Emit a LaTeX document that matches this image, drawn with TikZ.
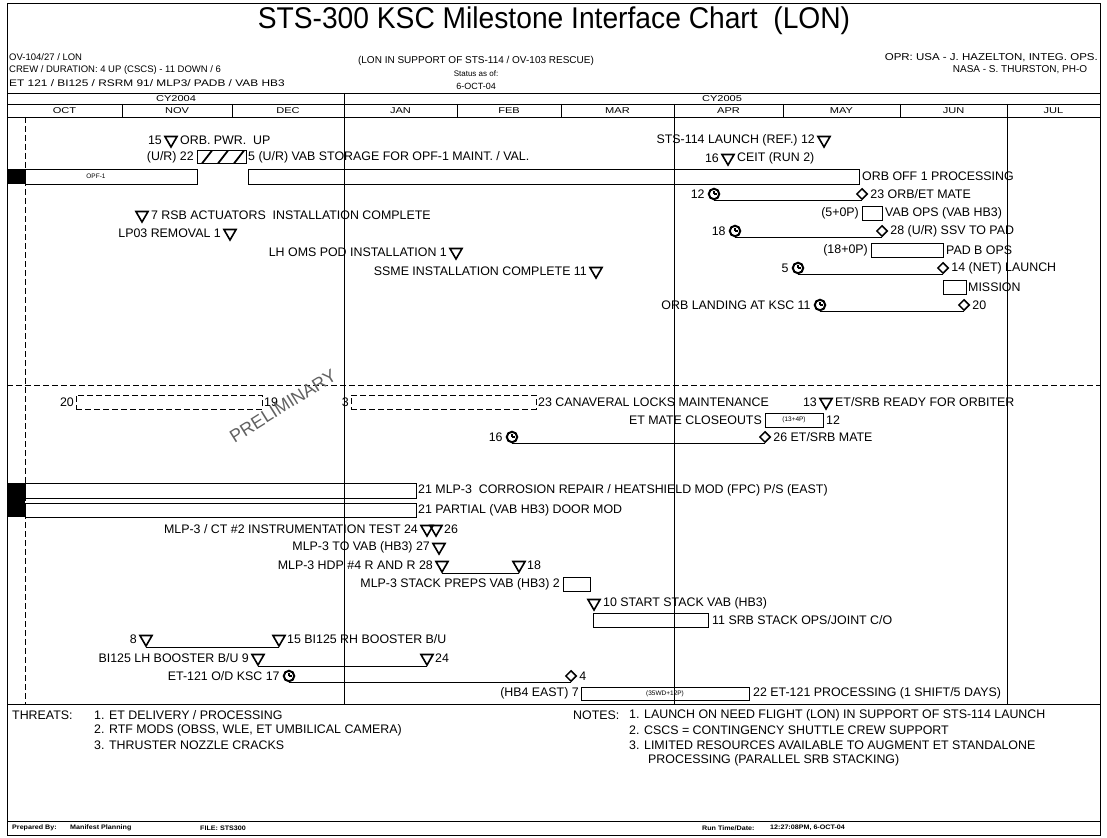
\documentclass[tikz,border=0pt]{standalone}
\usepackage{fontspec}
\setmainfont{Liberation Sans}
\newfontfamily\ttlface[FakeStretch=0.94]{Liberation Sans}
\newfontfamily\etface[FakeStretch=1.25]{Liberation Sans}
\newfontfamily\oprface[FakeStretch=1.15]{Liberation Sans}
\newfontfamily\monface[FakeStretch=1.3]{Liberation Sans}
\newfontfamily\ftrface[FakeStretch=1.1]{Liberation Sans}
\usetikzlibrary{positioning,shapes.geometric}

\begin{document}
\begin{tikzpicture}[x=1pt,y=-1pt,
  lbl/.style={font=\fontsize{12.4}{14}\selectfont, inner sep=1pt},
  note/.style={font=\fontsize{12.4}{14}\selectfont, inner sep=0pt, anchor=west},
  hdr/.style={font=\fontsize{9.5}{11}\selectfont, inner sep=0pt, anchor=west},
  mon/.style={font=\monface\fontsize{8.5}{10}\selectfont, inner sep=0pt},
  ftr/.style={font=\ftrface\bfseries\fontsize{6.5}{8}\selectfont, inner sep=0pt, anchor=west},
  inbox/.style={font=\fontsize{6.5}{7}\selectfont},
  ms/.style={regular polygon, regular polygon sides=3, shape border rotate=180, draw, line width=1.6pt, minimum size=14pt, inner sep=0pt},
  dm/.style={diamond, draw, line width=1.5pt, minimum size=11pt, inner sep=0pt},
  fc/.style={circle, draw, line width=2pt, minimum size=10.5pt, inner sep=0pt,
    path picture={\draw[line width=1.3pt] (path picture bounding box.center) -- ++(0,-3.5)
      (path picture bounding box.center) -- ++(3,0);}},
  task/.style={draw, line width=0.9pt, inner sep=0pt, outer sep=0pt},
  plan/.style={task, dash pattern=on 6pt off 3pt},
  tie/.style={line width=0.9pt},
  gridline/.style={line width=0.9pt},
  today/.style={line width=0.9pt, dash pattern=on 6pt off 3pt}
]
\useasboundingbox (0,0) rectangle (1107,837);

\draw[gridline] (7,3) rectangle (1100,835);
\foreach \y in {93,104,117,704,821} \draw[gridline] (7,\y) -- (1100,\y);
\draw[gridline] (344,93) -- (344,704);
\foreach \x in {674,1007} \draw[gridline] (\x,104) -- (\x,704);
\foreach \x in {122,232,457,561,783,900} \draw[gridline] (\x,104) -- (\x,117);
\draw[today] (25,117) -- (25,704);
\draw[today] (7,385) -- (1100,385);
\fill (7,169) rectangle (25,184);
\fill (7,483) rectangle (25,517);

\node[font=\ttlface\fontsize{30}{32}\selectfont, inner sep=0pt] (ttl) at (554,21) {STS-300 KSC Milestone Interface Chart\ \ (LON)};
\node[hdr] (hl1) at (9,57) {OV-104/27 / LON};
\node[hdr] (hl2) at (9,70) {CREW / DURATION: 4 UP (CSCS) - 11 DOWN / 6};
\node[hdr, font=\etface\fontsize{9.5}{11}\selectfont] (hl3) at (9,83) {ET 121 / BI125 / RSRM 91/ MLP3/ PADB / VAB HB3};
\node[font=\fontsize{10}{12}\selectfont, inner sep=0pt] (hc1) at (476,61) {(LON IN SUPPORT OF STS-114 / OV-103 RESCUE)};
\node[font=\fontsize{8}{9}\selectfont, inner sep=0pt] (hc2) at (476,74) {Status as of:};
\node[font=\fontsize{9}{10}\selectfont, inner sep=0pt] (hc3) at (476,86) {6-OCT-04};
\node[font=\oprface\fontsize{10}{12}\selectfont, inner sep=0pt, anchor=east] (hr1) at (1098,58) {OPR: USA - J. HAZELTON, INTEG. OPS.};
\node[font=\fontsize{10}{12}\selectfont, inner sep=0pt] (hr2) at (1020,70) {NASA - S. THURSTON, PH-O};
\node[mon] (cy4) at (176,98.5) {CY2004};
\node[mon] (cy5) at (722,98.5) {CY2005};
\foreach \m/\x in {OCT/64.5,NOV/177,DEC/288,JAN/400.5,FEB/509,MAR/617.5,APR/728.5,MAY/841.5,JUN/953.5,JUL/1053.5}
  \node[mon] (m\m) at (\x,110.5) {\m};

\node[ms] (ms15) at (171,140) {};
\node[lbl, left=3pt of ms15] (a15) {15};
\node[lbl, right=3pt of ms15] (b15) {ORB. PWR.\ \ UP};
\node[task, minimum width=49pt, minimum height=13pt,
  path picture={\foreach \k in {5,21,37} \draw[line width=1.8pt] ([xshift=\k pt]path picture bounding box.south west) -- ++(10,-13);}] (hatch) at (221.5,157) {};
\node[lbl, left=2pt of hatch] (ahatch) {(U/R) 22};
\node[lbl, right=1pt of hatch] (bhatch) {5 (U/R) VAB STORAGE FOR OPF-1 MAINT. / VAL.};
\node[task, minimum width=172pt, minimum height=15pt] (opf) at (111,176.5) {};
\node[inbox] (opft) at (96,176.5) {OPF-1};
\node[task, minimum width=611pt, minimum height=15pt] (orb) at (553.5,176.5) {};
\node[lbl, right=2pt of orb] (borb) {ORB OFF 1 PROCESSING};
\node[ms] (ms7) at (142,215) {};
\node[lbl, right=3pt of ms7] (b7) {7 RSB ACTUATORS\ \ INSTALLATION COMPLETE};
\node[ms] (lp1) at (230,233) {};
\node[lbl, left=3pt of lp1] (alp1) {LP03 REMOVAL 1};
\node[ms] (oms1) at (456,252) {};
\node[lbl, left=3pt of oms1] (aoms1) {LH OMS POD INSTALLATION 1};
\node[ms] (ssme11) at (596,271) {};
\node[lbl, left=3pt of ssme11] (assme11) {SSME INSTALLATION COMPLETE 11};

\node[ms] (ms12) at (824,140) {};
\node[lbl, left=3pt of ms12] (a12) {STS-114 LAUNCH (REF.) 12};
\node[ms] (ms16) at (728,158) {};
\node[lbl, left=3pt of ms16] (a16) {16};
\node[lbl, right=3pt of ms16] (b16) {CEIT (RUN 2)};
\node[fc] (fc12) at (714,194) {};
\node[dm] (dm23) at (862,194) {};
\draw[tie] (fc12.south) -- (dm23.south);
\node[lbl, left=2pt of fc12] (afc12) {12};
\node[lbl, right=1pt of dm23] (bdm23) {23 ORB/ET MATE};
\node[task, minimum width=20pt, minimum height=14pt] (vab) at (872,213) {};
\node[lbl, left=2pt of vab] (avab) {(5+0P)};
\node[lbl, right=2pt of vab] (bvab) {VAB OPS (VAB HB3)};
\node[fc] (fc18) at (735,231) {};
\node[dm] (dm28) at (882,231) {};
\draw[tie] (fc18.south) -- (dm28.south);
\node[lbl, left=2pt of fc18] (afc18) {18};
\node[lbl, right=1pt of dm28] (bdm28) {28 (U/R) SSV TO PAD};
\node[task, minimum width=72pt, minimum height=14pt] (pad) at (907,250) {};
\node[lbl, left=2pt of pad] (apad) {(18+0P)};
\node[lbl, right=2pt of pad] (bpad) {PAD B OPS};
\node[fc] (fc5) at (798,268) {};
\node[dm] (dm14) at (943,268) {};
\draw[tie] (fc5.south) -- (dm14.south);
\node[lbl, left=2pt of fc5] (afc5) {5};
\node[lbl, right=1pt of dm14] (bdm14) {14 (NET) LAUNCH};
\node[task, minimum width=23pt, minimum height=14pt] (mis) at (954.5,287) {};
\node[lbl, right=1pt of mis] (bmis) {MISSION};
\node[fc] (fc11) at (820,305) {};
\node[dm] (dm20) at (964,305) {};
\draw[tie] (fc11.south) -- (dm20.south);
\node[lbl, left=2pt of fc11] (afc11) {ORB LANDING AT KSC 11};
\node[lbl, right=1pt of dm20] (bdm20) {20};

\node[plan, minimum width=186pt, minimum height=14pt] (lock1) at (169,402) {};
\node[lbl, left=1pt of lock1] (alock1) {20};
\node[lbl, right=1pt of lock1] (block1) {19};
\node[plan, minimum width=185pt, minimum height=14pt] (lock2) at (443.5,402) {};
\node[lbl, left=1pt of lock2] (alock2) {3};
\node[lbl, right=1pt of lock2] (block2) {23 CANAVERAL LOCKS MAINTENANCE};
\node[font=\fontsize{18}{20}\selectfont, text=black!62, rotate=32, inner sep=0pt] (prelim) at (283,406) {PRELIMINARY};
\node[ms] (ms13) at (826,402) {};
\node[lbl, left=3pt of ms13] (a13) {13};
\node[lbl, right=3pt of ms13] (b13) {ET/SRB READY FOR ORBITER};
\node[task, minimum width=58pt, minimum height=14pt, inbox] (clo) at (794,420) {(13+4P)};
\node[lbl, left=2pt of clo] (aclo) {ET MATE CLOSEOUTS};
\node[lbl, right=2pt of clo] (bclo) {12};
\node[fc] (fc16) at (512,437) {};
\node[dm] (dm26) at (765,437) {};
\draw[tie] (fc16.south) -- (dm26.south);
\node[lbl, left=2pt of fc16] (afc16) {16};
\node[lbl, right=1pt of dm26] (bdm26) {26 ET/SRB MATE};

\node[task, minimum width=391pt, minimum height=15pt] (mlpa) at (220.5,490.5) {};
\node[lbl, right=1pt of mlpa] (bmlpa) {21 MLP-3\ \ CORROSION REPAIR / HEATSHIELD MOD (FPC) P/S (EAST)};
\node[task, minimum width=391pt, minimum height=14pt] (mlpb) at (220.5,510) {};
\node[lbl, right=1pt of mlpb] (bmlpb) {21 PARTIAL (VAB HB3) DOOR MOD};
\node[ms] (ct24) at (427,529) {};
\node[ms] (ct26) at (436,529) {};
\node[lbl, left=3pt of ct24] (act24) {MLP-3 / CT \#2 INSTRUMENTATION TEST 24};
\node[lbl, right=2pt of ct26] (bct26) {26};
\node[ms] (vab27) at (439,547) {};
\node[lbl, left=3pt of vab27] (avab27) {MLP-3 TO VAB (HB3) 27};
\node[ms] (hdp28) at (442,565) {};
\node[ms] (hdp18) at (519,565) {};
\draw[tie] (hdp28.south) -- (hdp18.south);
\node[lbl, left=3pt of hdp28] (ahdp28) {MLP-3 HDP \#4 R AND R 28};
\node[lbl, right=2pt of hdp18] (bhdp18) {18};
\node[task, minimum width=27pt, minimum height=14pt] (prep) at (576.5,584) {};
\node[lbl, left=2pt of prep] (aprep) {MLP-3 STACK PREPS VAB (HB3) 2};
\node[ms] (stk10) at (594,603) {};
\node[lbl, right=3pt of stk10] (bstk10) {10 START STACK VAB (HB3)};
\node[task, minimum width=115pt, minimum height=14pt] (srb) at (650.5,620) {};
\node[lbl, right=3pt of srb] (bsrb) {11 SRB STACK OPS/JOINT C/O};
\node[ms] (rh8) at (146,639) {};
\node[ms] (rh15) at (279,639) {};
\draw[tie] (rh8.south) -- (rh15.south);
\node[lbl, left=3pt of rh8] (arh8) {8};
\node[lbl, right=2pt of rh15] (brh15) {15 BI125 RH BOOSTER B/U};
\node[ms] (lh9) at (258,658) {};
\node[ms] (lh24) at (427,658) {};
\draw[tie] (lh9.south) -- (lh24.south);
\node[lbl, left=3pt of lh9] (alh9) {BI125 LH BOOSTER B/U 9};
\node[lbl, right=2pt of lh24] (blh24) {24};
\node[fc] (fc17) at (289,676) {};
\node[dm] (dm4) at (571,676) {};
\draw[tie] (fc17.south) -- (dm4.south);
\node[lbl, left=2pt of fc17] (afc17) {ET-121 O/D KSC 17};
\node[lbl, right=1pt of dm4] (bdm4) {4};
\node[task, minimum width=168pt, minimum height=13pt, inbox] (et) at (665,693.5) {(35WD+12P)};
\node[lbl, left=1pt of et] (aet) {(HB4 EAST) 7};
\node[lbl, right=3pt of et] (bet) {22 ET-121 PROCESSING (1 SHIFT/5 DAYS)};

\node[note] (thr) at (12,715) {THREATS:};
\node[note] (thr1) at (94,715) {1. ET DELIVERY / PROCESSING};
\node[note] (thr2) at (94,730) {2. RTF MODS (OBSS, WLE, ET UMBILICAL CAMERA)};
\node[note] (thr3) at (94,745) {3. THRUSTER NOZZLE CRACKS};
\node[note] (nts) at (573,715) {NOTES:};
\node[note] (nts1) at (629,715) {1. LAUNCH ON NEED FLIGHT (LON) IN SUPPORT OF STS-114 LAUNCH};
\node[note] (nts2) at (629,730) {2. CSCS = CONTINGENCY SHUTTLE CREW SUPPORT};
\node[note] (nts3) at (629,745) {3. LIMITED RESOURCES AVAILABLE TO AUGMENT ET STANDALONE};
\node[note] (nts4) at (648,760) {PROCESSING (PARALLEL SRB STACKING)};
\node[ftr] (prp) at (12,828) {Prepared By:};
\node[ftr] (mfp) at (70,828) {Manifest Planning};
\node[ftr] (fil) at (200,828) {FILE: STS300};
\node[ftr] (rtd) at (702,828) {Run Time/Date:};
\node[ftr] (rtv) at (770,828) {12:27:08PM, 6-OCT-04};
\end{tikzpicture}
\end{document}
